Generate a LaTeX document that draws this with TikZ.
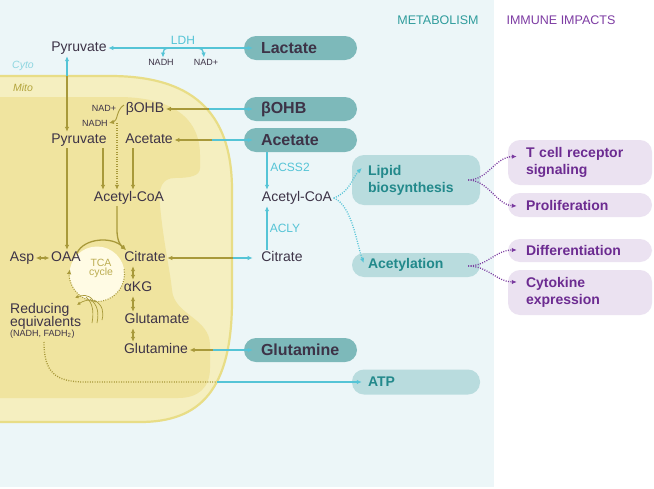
\documentclass[tikz,border=0pt]{standalone}
\usepackage{fontspec}
\setmainfont{Liberation Sans}
\usetikzlibrary{arrows.meta,calc}
\definecolor{bgblue}{HTML}{ECF6F8}
\definecolor{mitoout}{HTML}{F5EFC0}
\definecolor{mitoline}{HTML}{E8DD86}
\definecolor{matrixc}{HTML}{F0E49F}
\definecolor{tcafill}{HTML}{FFFBE4}
\definecolor{txt}{HTML}{3D3347}
\definecolor{cyanl}{HTML}{55C4D6}
\definecolor{olive}{HTML}{A8993A}
\definecolor{tcatxt}{HTML}{BCAD52}
\definecolor{pillteal}{HTML}{7DB9BA}
\definecolor{pilllight}{HTML}{B9DCDE}
\definecolor{tealtxt}{HTML}{22898B}
\definecolor{pillpurp}{HTML}{EBE2F1}
\definecolor{purptxt}{HTML}{6C2B91}
\definecolor{purpline}{HTML}{7A3AA0}
\definecolor{metab}{HTML}{2F9C9C}
\definecolor{immune}{HTML}{7D3BA3}
\definecolor{cytotxt}{HTML}{8ED6E0}
\definecolor{mitotxt}{HTML}{B3A43C}
\begin{document}
\begin{tikzpicture}[x=1pt,y=-1pt,
  >={Latex[length=5pt,width=4.5pt]},
  lbl/.style={font=\fontsize{14}{16}\selectfont, text=txt, inner sep=1.5pt, text height=10pt, text depth=3pt},
  sm/.style={font=\fontsize{9}{10}\selectfont, text=txt, inner sep=1pt, text height=6.5pt, text depth=0pt},
  enz/.style={font=\fontsize{12}{14}\selectfont, text=cyanl, inner sep=1pt},
  tcal/.style={font=\fontsize{10.5}{11}\selectfont, text=tcatxt, inner sep=0pt},
  cy/.style={draw=cyanl, line width=1.3pt},
  ol/.style={draw=olive, line width=1.3pt},
  pu/.style={draw=purpline, line width=1.3pt},
  dots/.style={dash pattern=on 1pt off 1.4pt},
  thinol/.style={draw=olive, line width=0.7pt},
  subpill/.style={fill=pillteal, rounded corners=12pt, minimum height=24pt, text width=79pt, inner xsep=17pt, inner ysep=0pt, align=left, font=\fontsize{16}{18}\selectfont\bfseries, text=txt},
  lightpill/.style={fill=pilllight, rounded corners=12pt, text width=96pt, inner xsep=16pt, inner ysep=0pt, align=left, font=\fontsize{14}{17}\selectfont\bfseries, text=tealtxt},
  purppill/.style={fill=pillpurp, rounded corners=12pt, text width=108pt, inner xsep=18pt, inner ysep=0pt, align=left, font=\fontsize{14}{16.5}\selectfont\bfseries, text=purptxt}
]
\useasboundingbox (0,0) rectangle (654,488);
\fill[white] (0,0) rectangle (654,488);
\fill[bgblue] (0,0) rectangle (494,487);
% mitochondrion
\filldraw[fill=mitoout, draw=mitoline, line width=2.2pt] (-3,76) -- (110,76) .. controls (190,76) and (232,110) .. (232,190) -- (232,300) .. controls (232,390) and (200,422) .. (140,422) -- (-3,422) -- cycle;
\fill[matrixc] (-3,97) -- (118,97) .. controls (172,97) and (200,118) .. (200,155) -- (200,168) .. controls (200,176) and (190,178) .. (175,178) .. controls (162,178) and (158,188) .. (160,205) .. controls (163,240) and (170,270) .. (172,290) .. controls (174,315) and (210,318) .. (210,345) -- (210,368) .. controls (210,388) and (198,398) .. (178,398) -- (-3,398) -- cycle;
% TCA circle
\fill[tcafill] (97,274) circle[radius=27.5];
\draw[ol, line width=1.1pt, dots, ->] ($(97,274)+(-10:27.5)$) arc[start angle=-10, end angle=190, radius=27.5];
\node[tcal, text height=7.5pt, text depth=0pt] (tca1) at (101,263) {TCA};
\node[tcal, text height=5.5pt, text depth=2pt] (tca2) at (101,274) {cycle};

% titles
\node[font=\fontsize{12.5}{14}\selectfont, text=metab] (metab) at (438,20) {METABOLISM};
\node[font=\fontsize{12.5}{14}\selectfont, text=immune] (immune) at (561,20) {IMMUNE IMPACTS};
\node[font=\fontsize{10.5}{12}\selectfont\itshape, text=cytotxt] (cyto) at (23,66) {Cyto};
\node[font=\fontsize{10.5}{12}\selectfont\itshape, text=mitotxt] (mito) at (23,88) {Mito};

% pills
\node[subpill] (lact) at (300.5,48) {Lactate};
\node[subpill] (bohbP) at (300.5,109) {βOHB};
\node[subpill] (acetP) at (300.5,140) {Acetate};
\node[subpill] (glnP) at (300.5,350) {Glutamine};
\node[lightpill, minimum height=50pt] (lipid) at (416,180) {Lipid\\biosynthesis};
\node[lightpill, minimum height=24pt] (acetyl) at (416,265) {Acetylation};
\node[lightpill, minimum height=25pt] (atp) at (416,382) {ATP};
\node[purppill, minimum height=45pt] (tcr) at (580,162.5) {T cell receptor\\signaling};
\node[purppill, minimum height=24pt] (prolif) at (580,205) {Proliferation};
\node[purppill, minimum height=23pt] (diff) at (580,250.5) {Differentiation};
\node[purppill, minimum height=45pt] (cytok) at (580,292.5) {Cytokine\\expression};

% cytosol text
\node[lbl] (pyrC) at (79,48) {Pyruvate};
\node[enz] (ldh) at (183,40) {LDH};
\node[sm] (nadhC) at (161,62) {NADH};
\node[sm] (nadpC) at (206,62) {NAD+};
\node[lbl] (acoaC) at (297,198) {Acetyl-CoA};
\node[lbl] (citC) at (282,258) {Citrate};
\node[enz] (acss) at (290,167) {ACSS2};
\node[enz] (acly) at (285,228) {ACLY};

% mito text
\node[lbl] (bohbM) at (145,109) {βOHB};
\node[sm] (nadpM) at (104,108) {NAD+};
\node[sm] (nadhM) at (95,123) {NADH};
\node[lbl] (pyrM) at (79,140) {Pyruvate};
\node[lbl] (acetM) at (149,140) {Acetate};
\node[lbl] (acoaM) at (129,198) {Acetyl-CoA};
\node[lbl] (asp) at (22,258) {Asp};
\node[lbl] (oaa) at (66,258) {OAA};
\node[lbl] (citM) at (145,258) {Citrate};
\node[lbl] (akg) at (138,288) {αKG};
\node[lbl] (glu) at (157,320) {Glutamate};
\node[lbl] (glnM) at (156,350) {Glutamine};
\node[lbl, anchor=base west, inner sep=0pt] (red1) at (10,313) {Reducing};
\node[lbl, anchor=base west, inner sep=0pt] (red2) at (10,326) {equivalents};
\node[sm, anchor=base west, inner sep=0pt] (red3) at (10,336.5) {(NADH, FADH\textsubscript{2})};

% membrane crossing points
\coordinate (mPyr) at (67,76);
\coordinate (mB) at (209,109);
\coordinate (mA) at (212,140);
\coordinate (mC) at (233,258);
\coordinate (mG) at (213,350);
\coordinate (mT) at (217,382);
\coordinate (redS) at (44,342);
\coordinate (hook) at (124,105);
\coordinate (tcaL) at (77,253);
\coordinate (tcaR) at (126,250);

% lactate / pyruvate
\draw[cy,<->] (pyrC.east) -- ([xshift=9pt]lact.west);
\draw[cy,<->] ([xshift=2pt]nadhC.north) .. controls (163,47) and (169,48) .. (183,48) .. controls (197,48) and (203,47) .. ([xshift=-2pt]nadpC.north);
\draw[cy,->] (mPyr) -- ([xshift=-12pt]pyrC.south);
\draw[ol,->] (mPyr) -- ([xshift=-12pt]pyrM.north);
% uptake
\draw[ol,->] (mB) -- (bohbM.east);
\draw[cy,->] (mB) -- ([xshift=9pt]bohbP.west);
\draw[ol,->] (mA) -- (acetM.east);
\draw[cy,->] (mA) -- ([xshift=9pt]acetP.west);
\draw[ol,->] (mC) -- (citM.east);
\draw[cy,->] (mC) -- ([xshift=-7pt]citC.west);
\draw[ol,->] (mG) -- (glnM.east);
\draw[cy,->] (mG) -- ([xshift=9pt]glnP.west);
% ATP
\draw[ol,dots] (redS) .. controls (44,372) and (55,382) .. (85,382) -- (mT);
\draw[cy,->] (mT) -- ([xshift=10pt]atp.west);
% mito pathways
\draw[olive, line width=0.9pt, ->] (hook) .. controls (116,110) and (118,121) .. (nadhM.east);
\draw[ol,dots,->] ([xshift=-12pt]acoaM.north |- nadhM.center) -- ([xshift=-12pt]acoaM.north);
\draw[ol,->] ([xshift=24pt]pyrM.south) -- ([xshift=24pt]pyrM.south |- acoaM.north);
\draw[ol,->] ([xshift=-16pt]acetM.south) -- ([xshift=-16pt]acetM.south |- acoaM.north);
\draw[ol,->] ([xshift=-12pt]pyrM.south) -- ([xshift=-12pt]pyrM.south |- oaa.north);
\draw[ol,->] ([xshift=-12pt]acoaM.south) -- ([xshift=-12pt]acoaM.south |- 0,230) .. controls (117,240) and (120,245) .. (tcaR);
\draw[ol,->] (tcaL) .. controls (84,238) and (112,236) .. (tcaR);
\draw[ol,<->] (asp.east) -- (oaa.west);
\draw[ol,<->] ([xshift=-12pt]citM.south) -- ([xshift=-12pt]citM.south |- akg.north);
\draw[ol,<->] ([xshift=-5pt]akg.south) -- ([xshift=-5pt]akg.south |- glu.north);
\draw[ol,<->] ([xshift=-24pt]glu.south) -- ([xshift=-24pt]glu.south |- glnM.north);
% reducing equivalents fan
\draw[thinol,-{Latex[length=3.5pt,width=3.5pt]}] (93,300) .. controls (88,294) and (82,295) .. (75,298);
\draw[thinol,-{Latex[length=3.5pt,width=3.5pt]}] (96,302) .. controls (90,298) and (83,301) .. (77,305);
\draw[thinol] (86,297) .. controls (93,303) and (94,312) .. (92,323);
\draw[thinol] (90,299) .. controls (98,305) and (99,313) .. (97,323);
\draw[thinol] (94,300) .. controls (103,305) and (104,312) .. (102,320);
% cytosolic acetyl-CoA
\draw[cy,->] ([xshift=-30pt]acoaC.north |- acetP.south) -- ([xshift=-30pt]acoaC.north);
\draw[cy,->] ([xshift=-30pt]acoaC.south |- citC.north) -- ([xshift=-30pt]acoaC.south);
\coordinate (lipT) at ($(lipid.west)+(10,-12)$);
\coordinate (acT) at ($(acetyl.west)+(12,-2)$);
\draw[cy,dots,->] (acoaC.east) .. controls (350,192) and (352,178) .. (lipT);
\draw[cy,dots,->] (acoaC.east) .. controls (352,205) and (357,245) .. (acT);
% immune impacts
\coordinate (lipS) at ($(lipid.east)+(-12,0)$);
\coordinate (acS) at ($(acetyl.east)+(-12,1)$);
\coordinate (tcrT) at ($(tcr.west)+(9,-6)$);
\coordinate (prT) at ($(prolif.west)+(9,1)$);
\coordinate (diT) at ($(diff.west)+(9,-0.5)$);
\coordinate (cyT) at ($(cytok.west)+(9,-10.5)$);
\draw[pu,dots,->] (lipS) .. controls (488,180) and (495,157) .. (tcrT);
\draw[pu,dots,->] (lipS) .. controls (488,180) and (497,205) .. (prT);
\draw[pu,dots,->] (acS) .. controls (488,266) and (495,250) .. (diT);
\draw[pu,dots,->] (acS) .. controls (488,266) and (497,282) .. (cyT);
\end{tikzpicture}
\end{document}
